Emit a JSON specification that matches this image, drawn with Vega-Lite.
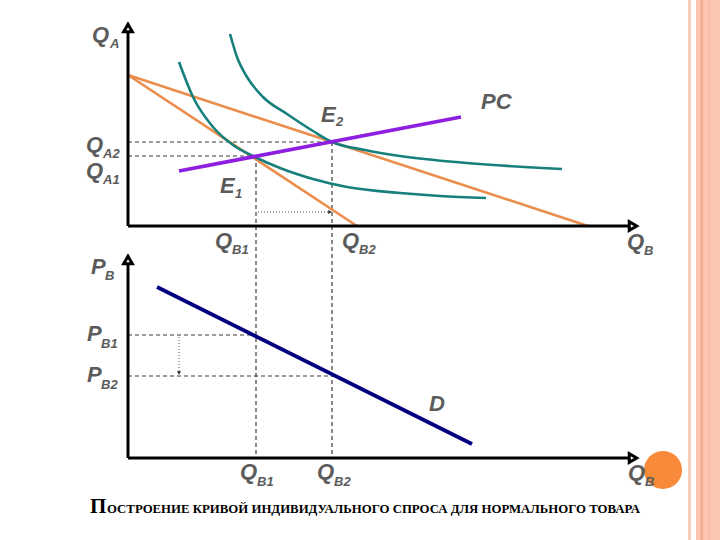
{
  "$schema": "https://vega.github.io/schema/vega-lite/v6.json",
  "width": 720,
  "height": 540,
  "padding": 0,
  "autosize": {"type": "fit", "contains": "padding"},
  "background": "white",
  "config": {"view": {"stroke": null}},
  "datasets": {
    "border": [
      {"part": "p1", "x": 688, "x2": 691, "y": 0, "y2": 540},
      {"part": "p2", "x": 696, "x2": 720, "y": 0, "y2": 540},
      {"part": "p3", "x": 700.5, "x2": 703, "y": 0, "y2": 540},
      {"part": "p4", "x": 708, "x2": 710, "y": 0, "y2": 540}
    ],
    "axes": [
      {"x": 128, "y": 226, "x2": 128, "y2": 32},
      {"x": 128, "y": 226, "x2": 628, "y2": 226},
      {"x": 128, "y": 458, "x2": 128, "y2": 264},
      {"x": 128, "y": 458, "x2": 628, "y2": 458}
    ],
    "arrowUp": [{"x": 128, "y": 28}, {"x": 128, "y": 260}],
    "arrowRight": [{"x": 633, "y": 226}, {"x": 633, "y": 458}],
    "budget": [
      {"x": 128, "y": 75, "x2": 357, "y2": 226},
      {"x": 128, "y": 75, "x2": 588, "y2": 226}
    ],
    "ic": [
      {"c": "I1", "x": 179, "y": 62}, {"c": "I1", "x": 193, "y": 97}, {"c": "I1", "x": 213, "y": 127},
      {"c": "I1", "x": 233, "y": 145}, {"c": "I1", "x": 255, "y": 157}, {"c": "I1", "x": 280, "y": 168},
      {"c": "I1", "x": 313, "y": 179}, {"c": "I1", "x": 347, "y": 187}, {"c": "I1", "x": 400, "y": 193},
      {"c": "I1", "x": 440, "y": 196}, {"c": "I1", "x": 486, "y": 198},
      {"c": "I2", "x": 230, "y": 34}, {"c": "I2", "x": 237, "y": 57}, {"c": "I2", "x": 247, "y": 77},
      {"c": "I2", "x": 263, "y": 97}, {"c": "I2", "x": 287, "y": 114}, {"c": "I2", "x": 313, "y": 131},
      {"c": "I2", "x": 332, "y": 142}, {"c": "I2", "x": 365, "y": 150}, {"c": "I2", "x": 400, "y": 156},
      {"c": "I2", "x": 467, "y": 163}, {"c": "I2", "x": 562, "y": 169}
    ],
    "pc": [{"x": 179, "y": 171, "x2": 461, "y2": 117}],
    "demand": [{"x": 157, "y": 287, "x2": 472, "y2": 444}],
    "dashed": [
      {"x": 128, "y": 142, "x2": 332, "y2": 142},
      {"x": 128, "y": 156, "x2": 255, "y2": 156},
      {"x": 256, "y": 156, "x2": 256, "y2": 458},
      {"x": 332, "y": 142, "x2": 332, "y2": 458},
      {"x": 128, "y": 335, "x2": 256, "y2": 335},
      {"x": 128, "y": 376, "x2": 332, "y2": 376}
    ],
    "dotted": [
      {"x": 258, "y": 212, "x2": 329, "y2": 212},
      {"x": 179, "y": 337, "x2": 179, "y2": 372}
    ],
    "tipRight": [{"x": 330, "y": 212}],
    "tipDown": [{"x": 179, "y": 373}],
    "circle": [{"x": 663, "y": 470}],
    "main": [
      {"t": "Q", "x": 92, "y": 42},
      {"t": "Q", "x": 86, "y": 152},
      {"t": "Q", "x": 86, "y": 178},
      {"t": "E", "x": 321, "y": 122},
      {"t": "E", "x": 220, "y": 193},
      {"t": "PC", "x": 481, "y": 109},
      {"t": "Q", "x": 215, "y": 248},
      {"t": "Q", "x": 342, "y": 248},
      {"t": "Q", "x": 627, "y": 249},
      {"t": "P", "x": 91, "y": 274},
      {"t": "P", "x": 87, "y": 341},
      {"t": "P", "x": 87, "y": 382},
      {"t": "D", "x": 429, "y": 411},
      {"t": "Q", "x": 240, "y": 479},
      {"t": "Q", "x": 317, "y": 479},
      {"t": "Q", "x": 628, "y": 480}
    ],
    "sub": [
      {"t": "A", "x": 110, "y": 48},
      {"t": "A2", "x": 103, "y": 158},
      {"t": "A1", "x": 103, "y": 184},
      {"t": "2", "x": 336, "y": 126},
      {"t": "1", "x": 235, "y": 198},
      {"t": "B1", "x": 232, "y": 254},
      {"t": "B2", "x": 359, "y": 254},
      {"t": "B", "x": 644, "y": 255},
      {"t": "B", "x": 105, "y": 280},
      {"t": "B1", "x": 101, "y": 348},
      {"t": "B2", "x": 101, "y": 389},
      {"t": "B1", "x": 257, "y": 486},
      {"t": "B2", "x": 334, "y": 486},
      {"t": "B", "x": 645, "y": 486}
    ],
    "titleBig": [{"t": "П", "x": 90, "y": 513}],
    "titleSmall": [{"t": "ОСТРОЕНИЕ КРИВОЙ ИНДИВИДУАЛЬНОГО СПРОСА ДЛЯ НОРМАЛЬНОГО ТОВАРА", "x": 107, "y": 513}]
  },
  "encoding": {
    "x": {"field": "x", "type": "quantitative", "scale": {"domain": [0, 720], "nice": false, "zero": false}, "axis": null},
    "y": {"field": "y", "type": "quantitative", "scale": {"domain": [0, 540], "nice": false, "zero": false, "reverse": true}, "axis": null}
  },
  "layer": [
    {
      "data": {"name": "border"},
      "mark": {"type": "rect"},
      "encoding": {
        "x2": {"field": "x2"},
        "y2": {"field": "y2"},
        "color": {"field": "part", "type": "nominal", "legend": null,
          "scale": {"domain": ["p1", "p2", "p3", "p4"], "range": ["#f7cbbb", "#fcc7b2", "#f3ab8b", "#f9bea4"]}}
      }
    },
    {
      "data": {"name": "dashed"},
      "mark": {"type": "rule", "color": "#3a3a3a", "strokeWidth": 1.2, "strokeDash": [4, 3]},
      "encoding": {"x2": {"field": "x2"}, "y2": {"field": "y2"}}
    },
    {
      "data": {"name": "dotted"},
      "mark": {"type": "rule", "color": "#555555", "strokeWidth": 1, "strokeDash": [1, 2]},
      "encoding": {"x2": {"field": "x2"}, "y2": {"field": "y2"}}
    },
    {
      "data": {"name": "tipRight"},
      "mark": {"type": "point", "shape": "triangle-right", "filled": true, "color": "#222222", "size": 16, "opacity": 1},
      "encoding": {}
    },
    {
      "data": {"name": "tipDown"},
      "mark": {"type": "point", "shape": "triangle-down", "filled": true, "color": "#222222", "size": 16, "opacity": 1},
      "encoding": {}
    },
    {
      "data": {"name": "budget"},
      "mark": {"type": "rule", "color": "#eb8d4d", "strokeWidth": 2.6},
      "encoding": {"x2": {"field": "x2"}, "y2": {"field": "y2"}}
    },
    {
      "data": {"name": "ic"},
      "mark": {"type": "line", "color": "#17807d", "strokeWidth": 2.6, "interpolate": "monotone"},
      "encoding": {"detail": {"field": "c"}, "order": {"field": "x", "type": "quantitative"}}
    },
    {
      "data": {"name": "pc"},
      "mark": {"type": "rule", "color": "#8e1ee0", "strokeWidth": 3.8},
      "encoding": {"x2": {"field": "x2"}, "y2": {"field": "y2"}}
    },
    {
      "data": {"name": "demand"},
      "mark": {"type": "rule", "color": "#00007f", "strokeWidth": 3.8},
      "encoding": {"x2": {"field": "x2"}, "y2": {"field": "y2"}}
    },
    {
      "data": {"name": "axes"},
      "mark": {"type": "rule", "color": "black", "strokeWidth": 3},
      "encoding": {"x2": {"field": "x2"}, "y2": {"field": "y2"}}
    },
    {
      "data": {"name": "arrowUp"},
      "mark": {"type": "point", "shape": "triangle-up", "filled": true, "fill": "white", "stroke": "black", "strokeWidth": 3, "size": 75, "opacity": 1},
      "encoding": {}
    },
    {
      "data": {"name": "arrowRight"},
      "mark": {"type": "point", "shape": "triangle-right", "filled": true, "fill": "white", "stroke": "black", "strokeWidth": 3, "size": 75, "opacity": 1},
      "encoding": {}
    },
    {
      "data": {"name": "circle"},
      "mark": {"type": "point", "shape": "circle", "filled": true, "color": "#f98a3a", "size": 1450, "opacity": 1},
      "encoding": {}
    },
    {
      "data": {"name": "main"},
      "mark": {"type": "text", "font": "Liberation Sans", "fontSize": 22, "fontWeight": "bold", "fontStyle": "italic", "color": "#5b5b5b", "align": "left", "baseline": "alphabetic"},
      "encoding": {"text": {"field": "t"}}
    },
    {
      "data": {"name": "sub"},
      "mark": {"type": "text", "font": "Liberation Sans", "fontSize": 13, "fontWeight": "bold", "fontStyle": "italic", "color": "#5b5b5b", "align": "left", "baseline": "alphabetic"},
      "encoding": {"text": {"field": "t"}}
    },
    {
      "data": {"name": "titleBig"},
      "mark": {"type": "text", "font": "Liberation Serif", "fontSize": 21, "fontWeight": "bold", "color": "black", "align": "left", "baseline": "alphabetic"},
      "encoding": {"text": {"field": "t"}}
    },
    {
      "data": {"name": "titleSmall"},
      "mark": {"type": "text", "font": "Liberation Serif", "fontSize": 12.8, "fontWeight": "bold", "color": "black", "align": "left", "baseline": "alphabetic"},
      "encoding": {"text": {"field": "t"}}
    }
  ]
}
